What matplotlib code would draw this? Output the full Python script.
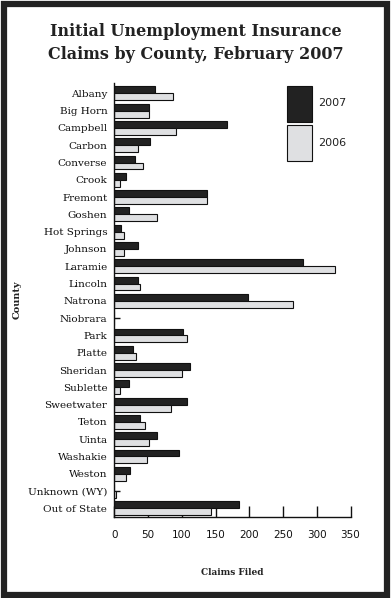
import matplotlib.pyplot as plt
from matplotlib.patches import Rectangle
import numpy as np

counties = ["Albany", "Big Horn", "Campbell", "Carbon", "Converse", "Crook",
            "Fremont", "Goshen", "Hot Springs", "Johnson", "Laramie", "Lincoln",
            "Natrona", "Niobrara", "Park", "Platte", "Sheridan", "Sublette",
            "Sweetwater", "Teton", "Uinta", "Washakie", "Weston",
            "Unknown (WY)", "Out of State"]
claims_2007 = [60, 51, 167, 53, 31, 18, 137, 22, 10, 35, 280, 35, 198, 0,
               102, 28, 112, 22, 108, 38, 63, 96, 23, 0, 185]
claims_2006 = [87, 51, 92, 35, 43, 9, 137, 63, 14, 15, 327, 38, 265, 0,
               107, 32, 101, 9, 84, 45, 52, 48, 18, 3, 143]
xticks = [0, 50, 100, 150, 200, 250, 300, 350]

W, H = 391, 598
fig = plt.figure(figsize=(W / 100, H / 100), dpi=100)
fig.patch.set_facecolor("white")

# axes placed in pixel terms
left, right, top, bottom = 114.3, 350.5, 83, 517
ax = fig.add_axes([left / W, 1 - bottom / H, (right - left) / W, (bottom - top) / H])

y = np.arange(len(counties))
bh = 0.4
ax.barh(y - bh / 2, claims_2007, height=bh, color="#222222", edgecolor="#111111",
        linewidth=0.8, label="2007")
ax.barh(y + bh / 2, claims_2006, height=bh, color="#dfe0e2", edgecolor="#111111",
        linewidth=0.8, label="2006")

ax.set_xlim(0, 350)
ax.set_ylim(len(counties) - 0.5, -0.6)
ax.set_axisbelow(True)

ax.spines["top"].set_visible(False)
ax.spines["right"].set_visible(False)
for s in ("left", "bottom"):
    ax.spines[s].set_linewidth(1.0)
    ax.spines[s].set_color("#111111")

ax.set_xticks(xticks)
ax.set_xticklabels([str(t) for t in xticks], family="DejaVu Sans", fontsize=7.5,
                   color="#222222")
ax.tick_params(axis="x", direction="in", length=8, width=1.0, pad=9, colors="#111111")
ax.set_yticks(y)
ax.set_yticklabels(counties, family="DejaVu Serif", fontsize=7.5, color="#222222")
ax.tick_params(axis="y", direction="in", length=4, width=1.0, pad=5, colors="#111111")

ax.set_xlabel("Claims Filed", family="DejaVu Serif", fontweight="bold", fontsize=6.5,
              color="#222222")
ax.xaxis.set_label_coords(0.5, -(568 - bottom) / (bottom - top))
ax.set_ylabel("County", family="DejaVu Serif", fontweight="bold", fontsize=7,
              color="#222222")
ax.yaxis.set_label_coords(-(left - 22) / (right - left), 0.5)

leg = ax.legend(loc="upper left",
                bbox_to_anchor=((281 - left) / (right - left), 1.0 + 3 / (bottom - top)),
                frameon=False, handlelength=2.25, handleheight=4.6,
                labelspacing=0.3, handletextpad=0.55, borderpad=0,
                prop={"family": "DejaVu Sans", "size": 8})
for t in leg.get_texts():
    t.set_color("#222222")

fig.text(0.5, 1 - 43 / H, "Initial Unemployment Insurance\nClaims by County, February 2007",
         ha="center", va="center", family="DejaVu Serif", fontweight="bold",
         fontsize=11.5, linespacing=1.4, color="#222222")

# black frame round the figure
fig.patches.append(Rectangle((3.5 / W, 3.5 / H), 1 - 7.5 / W, 1 - 7.5 / H,
                             transform=fig.transFigure, fill=False,
                             edgecolor="#222222", linewidth=4.5))

fig.savefig("out.png", dpi=100)
